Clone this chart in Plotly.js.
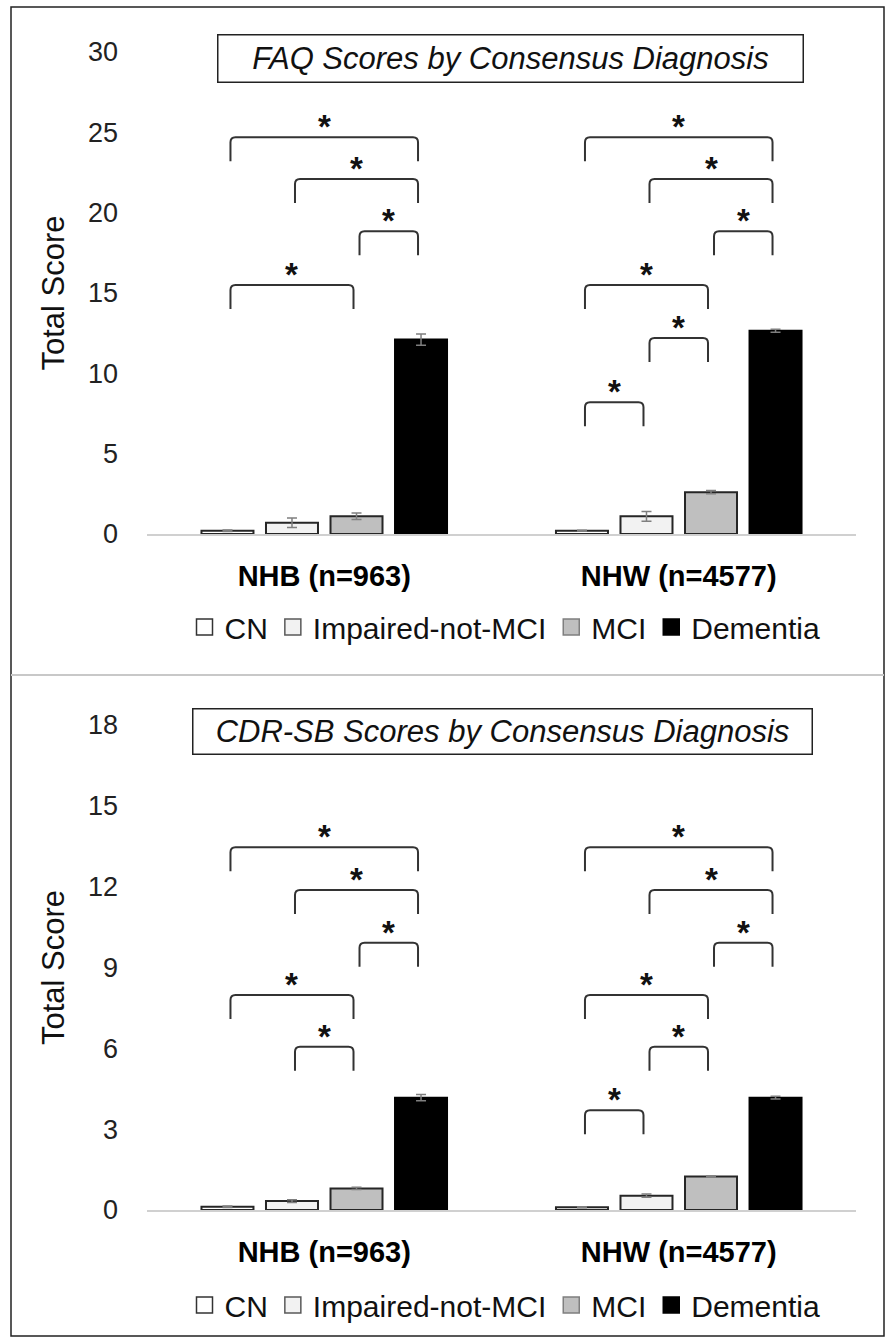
<!DOCTYPE html>
<html><head><meta charset="utf-8">
<script src="https://cdn.plot.ly/plotly-3.0.1.min.js"></script>
<style>html,body{margin:0;padding:0;background:#fff}</style>
</head><body><div id="chart" style="width:887px;height:1339px"></div>
<script>
// ---------- data ----------
const groups = ['NHB (n=963)', 'NHW (n=4577)'];
const groupPos = [0, 1];
const diagnoses = ['CN', 'Impaired-not-MCI', 'MCI', 'Dementia'];

// FAQ total scores (mean) and error (SE)
const faqCN = [0.2, 0.2];
const faqImp = [0.7, 1.1];
const faqMCI = [1.1, 2.6];
const faqDem = [12.1, 12.65];
const faqCNErr = [0.05, 0.03];
const faqImpErr = [0.3, 0.3];
const faqMCIErr = [0.2, 0.1];
const faqDemErr = [0.35, 0.1];

// CDR-SB total scores (mean) and error (SE)
const cdrCN = [0.12, 0.1];
const cdrImp = [0.33, 0.53];
const cdrMCI = [0.8, 1.24];
const cdrDem = [4.17, 4.17];
const cdrCNErr = [0.03, 0.02];
const cdrImpErr = [0.05, 0.06];
const cdrMCIErr = [0.04, 0.02];
const cdrDemErr = [0.12, 0.05];

// significance brackets: group index, from diagnosis, to diagnosis, level (score units)
const faqBrGroup = [0, 0, 0, 0, 1, 1, 1, 1, 1, 1];
const faqBrFrom  = [0, 1, 2, 0, 0, 1, 2, 0, 1, 0];
const faqBrTo    = [3, 3, 3, 2, 3, 3, 3, 2, 2, 1];
const faqBrLevel = [24.7, 22.1, 18.85, 15.5, 24.7, 22.1, 18.85, 15.5, 12.2, 8.2];

const cdrBrGroup = [0, 0, 0, 0, 0, 1, 1, 1, 1, 1, 1];
const cdrBrFrom  = [0, 1, 2, 0, 1, 0, 1, 2, 0, 1, 0];
const cdrBrTo    = [3, 3, 3, 2, 2, 3, 3, 3, 2, 2, 1];
const cdrBrLevel = [13.46, 11.88, 9.92, 7.98, 6.06, 13.46, 11.88, 9.92, 7.98, 6.06, 3.7];

const faqTicks = [0, 5, 10, 15, 20, 25, 30];
const cdrTicks = [0, 3, 6, 9, 12, 15, 18];

// ---------- styles ----------
const W = 887, H = 1339;
const fills = ['#ffffff', '#f2f2f2', '#bfbfbf', '#000000'];
const outlines = ['#262626', '#262626', '#262626', '#000000'];
const legOutlines = ['#333333', '#595959', '#7f7f7f', '#000000'];
const FONT = 'Liberation Sans, Arial, sans-serif';
const bargap = 0.272, bargroupgap = 0.194;

const xDom = [147 / W, 856 / W];
const yDomTop = [1 - 534 / H, 1 - 52 / H];
const yDomBot = [1 - 1210 / H, 1 - 725 / H];

function makeTraces(vals, errs, xa, ya, leg) {
  const bars = diagnoses.map((d, i) => ({
    type: 'bar', name: d, x: groupPos, y: vals[i],
    xaxis: xa, yaxis: ya, showlegend: false,
    marker: { color: fills[i], line: { color: outlines[i], width: 2 } },
    error_y: { type: 'data', array: errs[i], visible: true, color: '#7f7f7f', thickness: 1.5, width: 5 },
    hoverinfo: 'skip'
  }));
  // legend keys (square swatches, as in the original legend)
  const keys = diagnoses.map((d, i) => ({
    type: 'scatter', mode: 'markers', name: d, x: [null], y: [null],
    xaxis: xa, yaxis: ya, legend: leg, showlegend: true,
    marker: { symbol: 'square', size: 16, color: fills[i], line: { color: legOutlines[i], width: 1.5 } },
    hoverinfo: 'skip'
  }));
  return bars.concat(keys);
}

const traces = [].concat(
  makeTraces([faqCN, faqImp, faqMCI, faqDem], [faqCNErr, faqImpErr, faqMCIErr, faqDemErr], 'x', 'y', 'legend'),
  makeTraces([cdrCN, cdrImp, cdrMCI, cdrDem], [cdrCNErr, cdrImpErr, cdrMCIErr, cdrDemErr], 'x2', 'y2', 'legend2')
);

const slot = (1 - bargap) / diagnoses.length;
const off = k => (k - (diagnoses.length - 1) / 2) * slot;
const xRangeSpan = 2; // range [-0.5,1.5]
const pxPerX = (xDom[1] - xDom[0]) * W / xRangeSpan;

function brackets(G, F, T, L, xref, yref, yMax, yDom) {
  const pxPerY = (yDom[1] - yDom[0]) * H / yMax;
  const leg = 24 / pxPerY, ry = 5 / pxPerY, rx = 5 / pxPerX, inset = 3 / pxPerX;
  const shapes = [], ann = [];
  for (let i = 0; i < G.length; i++) {
    const x1 = G[i] + off(F[i]) + inset, x2 = G[i] + off(T[i]) - inset, y = L[i];
    shapes.push({
      type: 'path', xref, yref,
      path: `M ${x1},${y - leg} L ${x1},${y - ry} Q ${x1},${y} ${x1 + rx},${y} L ${x2 - rx},${y} Q ${x2},${y} ${x2},${y - ry} L ${x2},${y - leg}`,
      line: { color: '#333333', width: 2 }
    });
    ann.push({
      xref, yref, x: (x1 + x2) / 2, y, text: '*', showarrow: false,
      yanchor: 'bottom', yshift: -10, font: { family: FONT, size: 33, color: '#111', weight: 'bold' }
    });
  }
  return { shapes, ann };
}

const bTop = brackets(faqBrGroup, faqBrFrom, faqBrTo, faqBrLevel, 'x', 'y', 30, yDomTop);
const bBot = brackets(cdrBrGroup, cdrBrFrom, cdrBrTo, cdrBrLevel, 'x2', 'y2', 18, yDomBot);

const xCommon = {
  domain: xDom, range: [-0.5, 1.5], tickmode: 'array', tickvals: groupPos, ticktext: groups,
  showgrid: false, zeroline: false, showline: true, linecolor: '#d0d0d0', linewidth: 1.5,
  ticks: '', ticklabelstandoff: 16, fixedrange: true,
  tickfont: { family: FONT, size: 29, color: '#000', weight: 'bold' }
};
const yCommon = {
  showgrid: false, zeroline: false, showline: false, ticks: '', ticklabelstandoff: 28,
  tickfont: { family: FONT, size: 27, color: '#222' }, fixedrange: true, tickmode: 'array',
  title: { text: 'Total Score', font: { family: FONT, size: 31, color: '#111' }, standoff: 14 }
};

const legendCommon = {
  orientation: 'h', x: 505 / W, xanchor: 'center', yanchor: 'middle',
  font: { family: FONT, size: 30, color: '#111' }, itemwidth: 30, traceorder: 'normal',
  bgcolor: 'rgba(0,0,0,0)'
};

const layout = {
  width: W, height: H, margin: { l: 0, r: 0, t: 0, b: 0 },
  paper_bgcolor: '#fff', plot_bgcolor: '#fff',
  barmode: 'group', bargap, bargroupgap,
  showlegend: true,
  xaxis: Object.assign({}, xCommon, { anchor: 'y' }),
  xaxis2: Object.assign({}, xCommon, { anchor: 'y2' }),
  yaxis: Object.assign({}, yCommon, { domain: yDomTop, range: [0, 30], tickvals: faqTicks, anchor: 'x' }),
  yaxis2: Object.assign({}, yCommon, { domain: yDomBot, range: [0, 18], tickvals: cdrTicks, anchor: 'x2' }),
  legend: Object.assign({}, legendCommon, { y: 1 - 627 / H }),
  legend2: Object.assign({}, legendCommon, { y: 1 - 1305 / H }),
  shapes: [
    { type: 'rect', xref: 'paper', yref: 'paper', x0: 11 / W, x1: 884 / W, y0: 1 - 1336 / H, y1: 1 - 7 / H,
      line: { color: '#222', width: 1.5 } },
    { type: 'line', xref: 'paper', yref: 'paper', x0: 11 / W, x1: 884 / W, y0: 1 - 675 / H, y1: 1 - 675 / H,
      line: { color: '#c8c8c8', width: 2 } }
  ].concat(bTop.shapes, bBot.shapes),
  annotations: [
    { xref: 'paper', yref: 'paper', x: 510 / W, y: 1 - 58.5 / H, xanchor: 'center', yanchor: 'middle',
      text: '<i>FAQ Scores by Consensus Diagnosis</i>', showarrow: false, width: 582, height: 44,
      bordercolor: '#222', borderwidth: 1.5, bgcolor: '#fff', font: { family: FONT, size: 31, color: '#111' } },
    { xref: 'paper', yref: 'paper', x: 502 / W, y: 1 - 731 / H, xanchor: 'center', yanchor: 'middle',
      text: '<i>CDR-SB Scores by Consensus Diagnosis</i>', showarrow: false, width: 616, height: 42,
      bordercolor: '#222', borderwidth: 1.5, bgcolor: '#fff', font: { family: FONT, size: 31, color: '#111' } }
  ].concat(bTop.ann, bBot.ann)
};

Plotly.newPlot('chart', traces, layout, { staticPlot: true, displayModeBar: false });
</script></body></html>
